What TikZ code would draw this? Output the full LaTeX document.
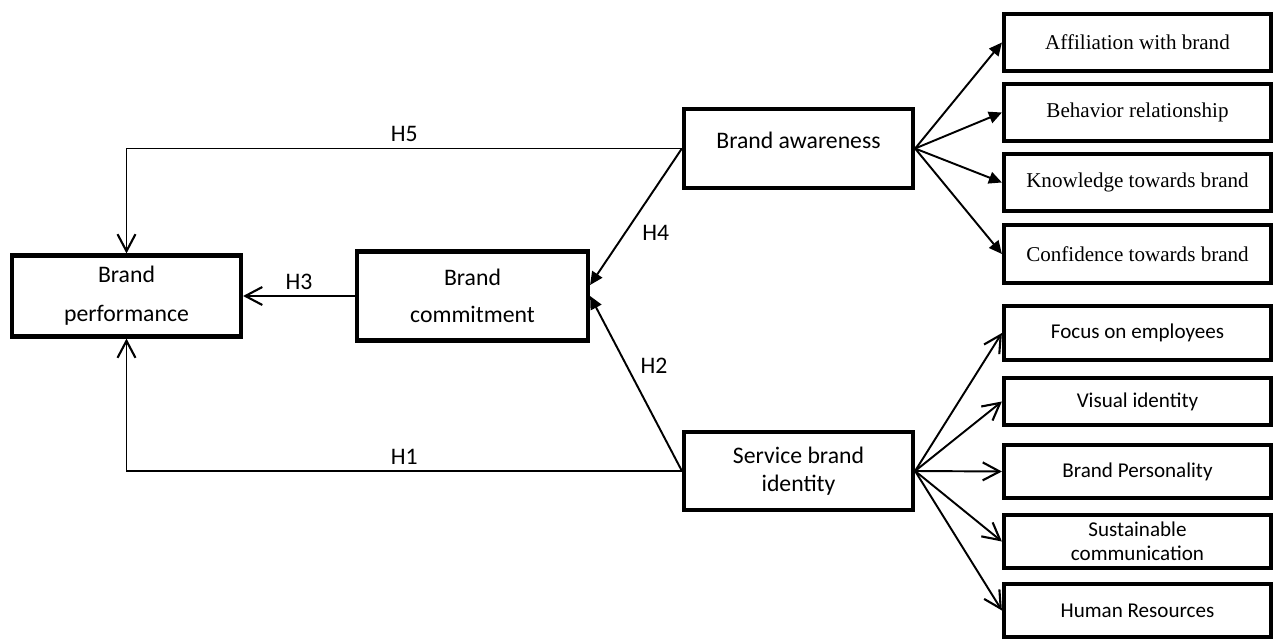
\documentclass[tikz,border=0pt]{standalone}
\usepackage{fontspec}
\setmainfont{Carlito}
\newfontfamily\timesfont{Liberation Serif}
\usetikzlibrary{arrows.meta}
\tikzset{
  box/.style={draw=black, line width=2.4pt, align=center, inner sep=2pt, font=\fontsize{13.5}{16}\selectfont},
  subbox/.style={box, minimum width=5.34cm, font=\fontsize{12}{14}\selectfont},
  timesbox/.style={subbox, font=\timesfont\fontsize{12}{14}\selectfont},
  link/.style={line width=1.1pt, draw=black},
  openarr/.style={link, -{Straight Barb[length=3.4mm,width=3.6mm,line width=1.2pt]}},
  triarr/.style={link, -{Triangle[length=2.6mm,width=2.4mm]}},
  hlab/.style={font=\fontsize{13.5}{16}\selectfont},
}
\begin{document}
\begin{tikzpicture}[x=0.02cm,y=-0.02cm]
    \useasboundingbox (0,0) rectangle (1276,642);
    % main constructs
    \node[box, minimum width=4.58cm, minimum height=1.62cm] (perf) at (126.5,296) {Brand\\[6pt] performance};
    \node[box, minimum width=4.62cm, minimum height=1.78cm] (commit) at (472.5,296) {Brand\\[5pt] commitment};
    \node[box, minimum width=4.58cm, minimum height=1.58cm] (aware) at (798.5,148.5) {Brand awareness\\[-11pt] \strut};
    \node[box, minimum width=4.58cm, minimum height=1.56cm] (sbi) at (798.5,471) {Service brand\\ identity};
    % awareness dimensions
    \node[timesbox, minimum height=1.14cm] (aff) at (1137.5,42.5) {Affiliation with brand};
    \node[timesbox, minimum height=1.14cm] (beh) at (1137.5,112.5) {Behavior relationship};
    \node[timesbox, minimum height=1.14cm] (know) at (1137.5,182.5) {Knowledge towards brand};
    \node[timesbox, minimum height=1.16cm] (conf) at (1137.5,254) {Confidence towards brand};
    % identity dimensions
    \node[subbox, minimum height=1.08cm] (focus) at (1137.5,333) {Focus on employees};
    \node[subbox, minimum height=0.94cm] (visual) at (1137.5,401.5) {Visual identity};
    \node[subbox, minimum height=1.06cm] (pers) at (1137.5,471.5) {Brand Personality};
    \node[subbox, minimum height=1.06cm, font=\fontsize{12}{12.5}\selectfont] (sust) at (1137.5,541.5) {\raisebox{-6pt}{\shortstack{Sustainable\\[2pt] communication}}};
    \node[subbox, minimum height=1.06cm] (hr) at (1137.5,610.5) {Human Resources};
    % hypotheses
    \draw[openarr] (aware.west) -| (perf.north) node[pos=0.25, above, hlab]{H5};
    \draw[openarr] (sbi.west) -| (perf.south) node[pos=0.25, above, hlab]{H1};
    \draw[openarr] (commit.west) -- (perf.east) node[midway, above, hlab]{H3};
    \draw[triarr] (aware.west) -- ([yshift=0.22cm]commit.east) node[pos=0.62, right, xshift=6pt, hlab]{H4};
    \draw[triarr] (sbi.west) -- (commit.east) node[pos=0.6, right, xshift=4pt, hlab]{H2};
    % dimension arrows
    \foreach \dim in {aff,beh,know,conf}
      \draw[triarr] (aware.east) -- (\dim.west);
    \foreach \dim in {focus,visual,pers,sust,hr}
      \draw[openarr] (sbi.east) -- (\dim.west);
  \end{tikzpicture}
\end{document}
